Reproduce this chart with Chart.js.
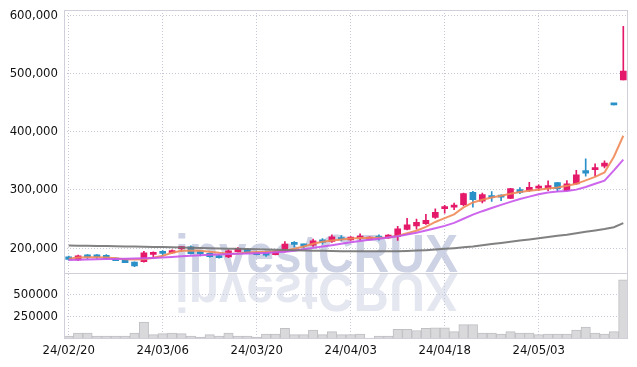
<!DOCTYPE html>
<html><head><meta charset="utf-8">
<script src="https://cdn.jsdelivr.net/npm/chart.js@4.4.1/dist/chart.umd.min.js"></script>
<style>html,body{margin:0;padding:0;background:#fff;}#wrap{width:637px;height:367px;}</style>
</head><body><div id="wrap"><canvas id="c" width="637" height="367"></canvas></div>
<script>
const dates = ['24/02/20','24/02/21','24/02/22','24/02/23','24/02/26','24/02/27','24/02/28','24/02/29','24/03/04','24/03/05',
'24/03/06','24/03/07','24/03/08','24/03/11','24/03/12','24/03/13','24/03/14','24/03/15','24/03/18','24/03/19',
'24/03/20','24/03/21','24/03/22','24/03/25','24/03/26','24/03/27','24/03/28','24/03/29','24/04/01','24/04/02',
'24/04/03','24/04/04','24/04/05','24/04/08','24/04/09','24/04/11','24/04/12','24/04/15','24/04/16','24/04/17',
'24/04/18','24/04/19','24/04/22','24/04/23','24/04/24','24/04/25','24/04/26','24/04/29','24/04/30','24/05/02',
'24/05/03','24/05/07','24/05/08','24/05/09','24/05/10','24/05/13','24/05/14','24/05/16','24/05/17','24/05/20'];
const opens = [185000,180000,185800,185800,187500,183000,180400,176300,176900,189300,
191500,191800,199100,202200,190900,191300,187300,185000,194100,198200,
193000,191900,189000,194200,207000,204200,205100,214300,211400,217700,
214300,217500,214900,217900,217700,220000,232100,238400,241900,252800,
268000,270400,274600,295900,280900,290200,288100,285600,300500,299300,
303200,302800,312600,298800,310300,333300,335000,340700,446500,489000];
const highs = [186500,188000,189000,189000,189000,183500,180500,176500,194700,193500,
195800,197000,203300,203900,193500,192000,188000,197000,201000,199000,
194000,193500,195500,211400,211400,206800,215400,216600,222900,221800,
220000,224600,219500,223000,223500,237300,251100,249900,258000,267700,
273500,277500,294800,297600,294800,297100,291800,302800,304000,313200,
308600,315500,313200,316000,333800,353400,344800,349900,446500,581000];
const lows = [179500,179000,182000,182500,181000,178500,175200,168300,175800,185500,
186600,191200,194700,189500,186600,184500,183000,183800,193500,191500,
188500,185700,188500,193000,201700,200000,202800,206800,209700,212600,
213100,214300,214300,213700,216600,213100,231500,232700,240700,251100,
260300,266000,272900,270600,277500,280400,281500,285000,293600,297600,
299300,298800,297000,298200,309700,323500,323500,337900,446000,489000];
const closes = [180500,187000,185300,185300,182000,178600,175200,169500,191800,189700,
191100,195800,199500,190700,190500,185500,183800,195300,199900,192400,
189000,187900,194700,206800,206600,203800,212600,209700,219400,214900,
218900,217900,218900,217500,222400,233300,240200,244200,247600,261400,
268600,270800,293600,283300,291900,286700,287700,302200,295900,304500,
303600,307400,302200,310300,325800,328700,336000,345900,446000,504000];
const volumes = [33000,67000,67000,33000,33000,33000,33000,67000,190000,48000,
60000,67000,60000,33000,22000,48000,33000,67000,33000,33000,
22000,56000,56000,119000,48000,48000,100000,48000,82000,48000,
48000,56000,11000,33000,33000,108000,108000,95000,119000,126000,
126000,82000,160000,160000,67000,67000,56000,82000,67000,67000,
48000,56000,56000,56000,100000,134000,67000,56000,82000,662000];
const maShort = [182000,184000,184500,184500,184000,182500,181000,180500,181000,183500,
187000,192000,195500,195800,195500,194000,192000,190500,191000,192500,
193500,193500,194500,195500,199000,203000,207500,211000,213000,215000,
216500,217500,217500,218000,218500,221000,225500,230000,236500,245000,
251500,258000,270000,278500,283000,287000,290000,293500,296500,298500,
300500,302500,304000,307000,310500,316500,322500,330000,357000,393000];
const maMid = [179700,180100,180500,180900,181200,181500,181800,182100,182500,183100,
183900,184800,186000,187000,187800,188500,189200,189800,190300,190700,
191200,191900,192800,194000,195700,198000,200500,202800,205000,207500,
210000,212300,214300,216300,218300,220300,223300,226500,230300,234300,
238300,243500,250500,257500,263500,269000,274300,279500,284500,288500,
292500,295500,297300,298300,300500,305000,310500,316000,333500,352000];
const maLong = [204500,204300,204100,203900,203600,203300,203000,202700,202400,202100,
201800,201500,201200,200800,200400,200000,199600,199200,198800,198400,
198000,197600,197200,196800,196400,196000,195700,195400,195100,194900,
194700,194600,194500,194500,194600,194800,195200,195800,196600,197600,
198800,200000,201400,202800,204800,207000,209000,211000,213000,215000,
217200,219200,221200,223200,225600,228000,230500,233000,236000,243000];
const priceTicks = [200000,300000,400000,500000,600000];
const volumeTicks = [250000,500000];
const labelEvery = 10;

const UP = '#e5196a', DOWN = '#2a90c8';
const candleColor = i => closes[i] >= opens[i] ? UP : DOWN;
const GRID = '#c5c8d8';
const FONT = {family:'"DejaVu Sans Condensed","DejaVu Sans",sans-serif', size:13};
const TXT = '#111';

const watermark = {
  id:'wm',
  beforeDraw(chart){
    const ctx = chart.ctx, ca = chart.chartArea;
    const base = chart.scales.y.bottom;
    ctx.save();
    ctx.beginPath(); ctx.rect(ca.left, ca.top, ca.right-ca.left, ca.bottom-ca.top); ctx.clip();
    ctx.font = 'bold 54px "Liberation Sans", Arial, sans-serif';
    const txt = 'investCRUX';
    const w = ctx.measureText(txt).width;
    const sx = 283 / w;
    const x0 = ca.left + 111;
    ctx.save();
    ctx.translate(x0, base - 1);
    ctx.scale(sx, 1);
    ctx.fillStyle = '#cdd2e4';
    ctx.fillText(txt, 0, 0);
    ctx.restore();
    ctx.save();
    ctx.translate(x0, base + 1);
    ctx.scale(sx, -1);
    ctx.fillStyle = '#e4e7f0';
    ctx.fillText(txt, 0, 0);
    ctx.restore();
    ctx.restore();
  }
};
const frame = {
  id:'frame',
  afterDraw(chart){
    const ctx = chart.ctx, ca = chart.chartArea;
    const sep = chart.scales.yv.top;
    ctx.save();
    ctx.strokeStyle = '#cfd0da';
    ctx.lineWidth = 1;
    ctx.strokeRect(Math.round(ca.left)+0.5, Math.round(ca.top)+0.5, Math.round(ca.right-ca.left)-1, Math.round(ca.bottom-ca.top)-1);
    ctx.beginPath();
    ctx.moveTo(ca.left, Math.round(sep)+0.5);
    ctx.lineTo(ca.right, Math.round(sep)+0.5);
    ctx.stroke();
    ctx.restore();
  }
};
const noPad = s => { s.paddingTop = 0; s.paddingBottom = 0; s.paddingLeft = 0; s.paddingRight = 0; };

new Chart(document.getElementById('c'), {
  type:'bar',
  data:{
    labels: dates,
    datasets:[
      {type:'line', data:maLong, yAxisID:'y', borderColor:'rgba(115,115,115,0.9)', borderWidth:2, pointRadius:0, tension:0, order:0},
      {type:'line', data:maMid, yAxisID:'y', borderColor:'rgba(200,85,235,0.9)', borderWidth:2, pointRadius:0, tension:0, order:0},
      {type:'line', data:maShort, yAxisID:'y', borderColor:'rgba(240,138,88,0.9)', borderWidth:2, pointRadius:0, tension:0, order:0},
      {data: dates.map((d,i)=>[opens[i], closes[i]]), yAxisID:'y', grouped:false, barThickness:6, minBarLength:2,
       backgroundColor: ctx => candleColor(ctx.dataIndex), borderWidth:0, order:1},
      {data: dates.map((d,i)=>[lows[i], highs[i]]), yAxisID:'y', grouped:false, barThickness:1,
       backgroundColor: ctx => candleColor(ctx.dataIndex), borderWidth:0, order:2},
      {data: volumes, yAxisID:'yv', grouped:false, barPercentage:1, categoryPercentage:1,
       backgroundColor:'#d9d9dc', borderColor:'#bfbfc4', borderWidth:1, order:3}
    ]
  },
  options:{
    responsive:false, animation:false, devicePixelRatio:1,
    layout:{padding:{top:10, right:9, left:0, bottom:0}},
    plugins:{legend:{display:false}, tooltip:{enabled:false}},
    scales:{
      x:{type:'category', offset:true,
         grid:{offset:false, drawTicks:false, color: c => (c.index % labelEvery === 0) ? GRID : 'rgba(0,0,0,0)'},
         border:{display:false, dash:[1,2]},
         ticks:{autoSkip:false, maxRotation:0, padding:4, color:TXT, font:FONT,
                callback:(v,i) => i % labelEvery === 0 ? dates[i] : ''},
         afterFit: s => { s.height = 28; noPad(s); }},
      y:{position:'left', stack:'main', stackWeight:4, weight:1, min:157000, max:609000,
         afterBuildTicks: s => { s.ticks = priceTicks.map(v=>({value:v})); },
         grid:{drawTicks:false, color:GRID}, border:{display:false, dash:[1,2]},
         ticks:{padding:6, color:TXT, font:FONT, callback: v => Number(v).toLocaleString('en-US')},
         afterFit: s => { s.width = 64; noPad(s); }},
      yv:{position:'left', stack:'main', stackWeight:1, weight:0, min:0, max:735000,
         afterBuildTicks: s => { s.ticks = volumeTicks.map(v=>({value:v})); },
         grid:{drawTicks:false, color:GRID}, border:{display:false, dash:[1,2]},
         ticks:{padding:6, color:TXT, font:FONT, callback: v => String(v)},
         afterFit: s => { s.width = 64; noPad(s); }}
    }
  },
  plugins:[watermark, frame]
});
</script></body></html>
